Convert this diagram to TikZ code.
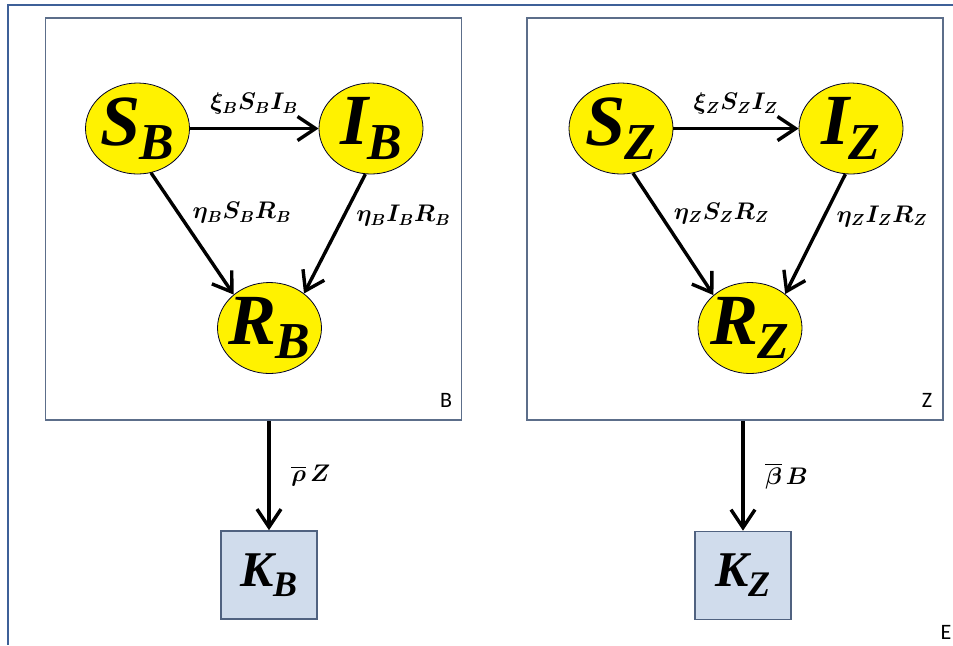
\RequirePackage{fix-cm}
\documentclass[tikz,border=0pt]{standalone}
\usepackage{amsmath,bm,graphicx}
\usepackage{fontspec}
\newfontfamily\tagfont{Carlito}
\newfontfamily\popfont{Liberation Serif}
\usetikzlibrary{shapes.geometric,arrows.meta}
\definecolor{framebl}{RGB}{62,96,152}
\definecolor{boxline}{RGB}{92,110,138}
\definecolor{poolline}{RGB}{80,98,128}
\definecolor{poolfill}{RGB}{208,220,236}
\newcommand{\popsym}[2]{\makebox[0pt]{\popfont\bfseries\itshape #1\kern-0.02em\raisebox{-0.2em}{\scalebox{0.72}{#2}}}}
\tikzset{
  state/.style={ellipse, draw=black!85!blue, thin, fill=yellow, inner sep=0pt,
    minimum width=52pt, minimum height=45.5pt, font=\fontsize{36}{40}\selectfont},
  compart/.style={draw=boxline, line width=0.9pt, minimum width=208pt, minimum height=201pt},
  pool/.style={draw=poolline, fill=poolfill, line width=0.8pt, inner sep=0pt,
    minimum width=48pt, minimum height=44pt, font=\fontsize{25}{28}\selectfont},
  flow/.style={->, line width=1.7pt},
  rate/.style={font=\fontsize{12}{14}\selectfont},
  tag/.style={font=\tagfont\fontsize{11}{13}\selectfont}
}
\begin{document}
\begin{tikzpicture}[x=0.5pt, y=-0.5pt, >={Straight Barb[length=9pt,width=12pt]}]
\useasboundingbox (0,0) rectangle (953,645);
% outer frame
\coordinate (fr0) at (8,5);
\draw[framebl, line width=1.2pt] (fr0 -| 953,0) -- (fr0) -- (fr0 |- 0,645);
% B compartment
\node[compart] (boxB) at (253.5,219) {};
\node[state] (SB) at (137.5,128.5) {\popsym{S}{B}};
\node[state] (IB) at (371,128.5) {\popsym{I}{B}};
\node[state] (RB) at (269.5,328) {\popsym{R}{B}};
\node[tag] (tagB) at (446,400) {B};
\draw[flow] (SB) -- (IB) node[rate, midway, above=3pt] {$\bm{\xi_B S_B I_B}$};
\draw[flow] (SB.-73) -- (RB.137) node[rate, pos=0.33, anchor=west, xshift=3pt] {$\bm{\eta_B S_B R_B}$};
\draw[flow] (IB.-97) -- (RB.45) node[rate, pos=0.35, anchor=west, xshift=2pt] {$\bm{\eta_B I_B R_B}$};
% Z compartment
\node[compart] (boxZ) at (735,219) {};
\node[state] (SZ) at (621,128.5) {\popsym{S}{Z}};
\node[state] (IZ) at (851,128.5) {\popsym{I}{Z}};
\node[state] (RZ) at (750,328) {\popsym{R}{Z}};
\node[tag] (tagZ) at (927,400) {Z};
\draw[flow] (SZ) -- (IZ) node[rate, midway, above=3pt] {$\bm{\xi_Z S_Z I_Z}$};
\draw[flow] (SZ.-75) -- (RZ.138) node[rate, pos=0.33, anchor=west, xshift=3pt] {$\bm{\eta_Z S_Z R_Z}$};
\draw[flow] (IZ.-97) -- (RZ.44) node[rate, pos=0.35, anchor=west, xshift=2pt] {$\bm{\eta_Z I_Z R_Z}$};
% sinks
\node[pool] (KB) at (269,575) {\popsym{K}{B}};
\node[pool] (KZ) at (743,575.5) {\popsym{K}{Z}};
\draw[flow] (boxB.south -| KB.north) -- (KB.north) node[rate, midway, anchor=west, xshift=7pt] {$\bm{\overline{\rho}\,Z}$};
\draw[flow] (boxZ.south -| KZ.north) -- (KZ.north) node[rate, midway, anchor=west, xshift=7pt] {$\bm{\overline{\beta}\,B}$};
\node[tag] (tagE) at (946,632) {E};
\end{tikzpicture}
\end{document}
